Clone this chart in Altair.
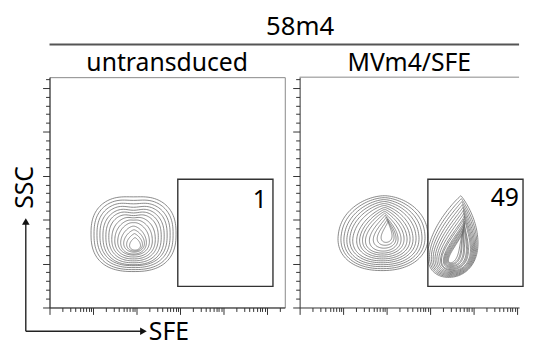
import numpy as np
import pandas as pd
import altair as alt

alt.data_transformers.disable_max_rows()

FONT = "Noto Sans"
AXIS_MAX = 262144
RIGHT_SFE_MAX = 113500  # right panel is cut off at the image edge

# ---------------- axis ticks ----------------
sfe_ticks = [k * 10 ** d for d in range(0, 6) for k in range(1, 10) if k * 10 ** d <= AXIS_MAX]
ssc_ticks = list(range(0, 260001, 10000))

# ---------------- panels / gates ----------------
panel_titles = ["untransduced", "MVm4/SFE"]
overall_title = "58m4"
gate_sfe = [900, 140000]
gate_ssc = [24000, 146000]
gate_pct = ["1", "49"]
label_sfe = [102000, 113000]
label_ssc = [136000, 138000]

# ---------------- contour rings ----------------
# extents of each contour ring: log10(SFE) left/right, SSC (thousands) top/bottom
# population A: untransduced, negative population
A_left = [0.956, 1.025, 1.093, 1.161, 1.230, 1.298, 1.366, 1.434, 1.503, 1.571, 1.639, 1.708, 1.776, 1.844]
A_right = [2.914, 2.846, 2.778, 2.709, 2.641, 2.573, 2.505, 2.436, 2.368, 2.300, 2.231, 2.186, 2.140, 2.095]
A_top = [127.2, 123.9, 120.6, 117.2, 113.9, 110.6, 107.3, 104.0, 100.7, 97.3, 92.9, 88.5, 84.1, 79.6]
A_bottom = [40.9, 43.1, 45.4, 47.6, 48.7, 50.9, 53.1, 55.3, 57.5, 59.7, 60.8, 63.0, 64.2, 65.3]
A_tip = [0, 0, 0, 0, 0, 0, 0, 0.05, 0.1, 0.15, 0.2, 0.25, 0.3, 0.35]
A_dent = [0.03, 0.05, 0.07, 0.09, 0.1, 0.1, 0.1, 0.08, 0.06, 0.04, 0.02, 0, 0, 0]
A_square = [2.5, 2.5, 2.45, 2.45, 2.4, 2.4, 2.35, 2.3, 2.25, 2.2, 2.1, 2.05, 2.0, 2.0]

# population B: MVm4/SFE, negative population
B_left = [0.888, 0.956, 1.025, 1.093, 1.161, 1.230, 1.321, 1.389, 1.457, 1.526, 1.617, 1.708, 1.799, 1.890]
B_right = [2.960, 2.892, 2.823, 2.755, 2.687, 2.618, 2.550, 2.482, 2.413, 2.345, 2.277, 2.231, 2.186, 2.140]
B_top = [127.2, 125.0, 122.8, 120.6, 118.3, 116.1, 113.9, 111.7, 109.5, 107.3, 105.1, 102.9, 100.7, 98.5]
B_bottom = [42.0, 44.2, 46.5, 48.7, 50.9, 53.1, 55.3, 57.5, 59.7, 61.9, 64.2, 67.5, 70.8, 74.1]
B_tip = [0.1, 0.12, 0.15, 0.18, 0.2, 0.25, 0.3, 0.35, 0.4, 0.5, 0.6, 0.7, 0.8, 0.9]
B_dent = [0] * 14
B_square = [2.2, 2.2, 2.2, 2.2, 2.15, 2.15, 2.1, 2.1, 2.05, 2.05, 2.0, 2.0, 2.0, 2.0]

# population C: MVm4/SFE, SFE-positive population
C_left = [3.005, 3.051, 3.097, 3.142, 3.188, 3.233, 3.279, 3.324, 3.347, 3.393, 3.415, 3.438, 3.461, 3.484, 3.506, 3.529]
C_right = [4.144, 4.121, 4.098, 4.075, 4.053, 4.030, 4.007, 3.984, 3.939, 3.916, 3.893, 3.848, 3.825, 3.780, 3.757, 3.711]
C_top = [127.2, 123.9, 120.6, 117.2, 113.9, 110.6, 107.3, 104.0, 100.7, 98.4, 96.2, 94.0, 91.8, 89.6, 87.4, 85.2]
C_bottom = [34.3, 35.4, 36.5, 37.6, 38.7, 39.8, 40.9, 42.0, 43.1, 44.2, 45.4, 46.5, 47.6, 48.7, 49.8, 50.9]
C_tip = [0.45, 0.5, 0.55, 0.6, 0.65, 0.7, 0.75, 0.8, 0.85, 0.9, 0.95, 1.0, 1.05, 1.1, 1.15, 1.2]
C_dent = [0] * 16
C_square = [2.1] * 16

LEAN = {"A": 0.0, "B": 0.05, "C": 0.28}


def rings(pop, left, right, top, bottom, tip, dent, square, npts=120):
    t = np.linspace(0, 2 * np.pi, npts)
    s, c = np.sin(t), np.cos(t)
    frames = []
    for i in range(len(left)):
        e = 2.0 / square[i]
        sx = np.sign(s) * np.abs(s) ** e
        cy = np.sign(c) * np.abs(c) ** e
        X = sx * ((1 - cy) / 2) ** tip[i]
        X = X / np.abs(X).max()
        Y = cy - dent[i] * np.exp(-(sx / 0.35) ** 2) * np.clip(cy, 0, None) ** 4
        xc = (left[i] + right[i]) / 2
        hw = (right[i] - left[i]) / 2
        xlog = xc + hw * X + LEAN[pop] * cy / 2
        y = bottom[i] + (top[i] - bottom[i]) * (Y + 1) / 2
        frames.append(pd.DataFrame({"ring": f"{pop}{i}", "k": np.arange(npts),
                                    "sfe": 10 ** xlog, "ssc": y * 1000}))
    return pd.concat(frames, ignore_index=True)


dfA = rings("A", A_left, A_right, A_top, A_bottom, A_tip, A_dent, A_square)
dfB = rings("B", B_left, B_right, B_top, B_bottom, B_tip, B_dent, B_square)
dfC = rings("C", C_left, C_right, C_top, C_bottom, C_tip, C_dent, C_square)
dfR = pd.concat([dfB, dfC], ignore_index=True)

WL, WR, H = 238, 222, 233
yscale = alt.Scale(domain=[0, AXIS_MAX], nice=False, zero=False)

x_major = "abs(log(datum.value)/LN10 - round(log(datum.value)/LN10)) < 0.001"
y_major = "datum.value % 50000 === 0"

common_axis = dict(labels=False, grid=False, domainColor="#333", tickColor="#333",
                   domainWidth=1, tickWidth=1)


def x_axis(with_title):
    kw = dict(values=sfe_ticks,
              tickSize={"condition": {"test": x_major, "value": 7}, "value": 4},
              **common_axis)
    if with_title:
        kw.update(title="SFE", titleFont=FONT, titleFontSize=25, titleFontWeight="normal",
                  titleColor="black", titleX=100, titleY=24, titleAlign="left",
                  titleBaseline="middle", titleAngle=0)
    else:
        kw.update(title="")
    return alt.Axis(**kw)


def y_axis(with_title):
    kw = dict(values=ssc_ticks,
              tickSize={"condition": {"test": y_major, "value": 7}, "value": 4},
              **common_axis)
    if with_title:
        kw.update(title="SSC", titleFont=FONT, titleFontSize=25, titleFontWeight="normal",
                  titleColor="black", titleX=-25, titleY=111, titleAlign="center",
                  titleBaseline="middle", titleAngle=270)
    else:
        kw.update(title="")
    return alt.Axis(**kw)


def panel(idx, contour_df, with_titles, xmax):
    xscale = alt.Scale(type="log", domain=[1, xmax], nice=False)
    X = alt.X("sfe:Q", scale=xscale, axis=x_axis(with_titles))
    Y = alt.Y("ssc:Q", scale=yscale, axis=y_axis(with_titles))
    contours = alt.Chart(contour_df).mark_line(color="#6c6c6c", strokeWidth=0.8).encode(
        x=X, y=Y, detail="ring:N", order="k:Q")
    gdf = pd.DataFrame({"sfe": [gate_sfe[0]], "sfe2": [gate_sfe[1]],
                        "ssc": [gate_ssc[0]], "ssc2": [gate_ssc[1]]})
    gate = alt.Chart(gdf).mark_rect(fill="white", fillOpacity=0, stroke="#333",
                                    strokeWidth=1.4).encode(
        x=X, x2="sfe2:Q", y=Y, y2="ssc2:Q")
    ldf = pd.DataFrame({"sfe": [label_sfe[idx]], "ssc": [label_ssc[idx]], "txt": [gate_pct[idx]]})
    label = alt.Chart(ldf).mark_text(font=FONT, fontSize=25, color="black", align="right",
                                     baseline="top").encode(x=X, y=Y, text="txt:N")
    return [contours, gate, label]


one = pd.DataFrame({"a": [0]})
AY = H + 24  # y of the horizontal arrow, below the plot

arrow_v = alt.Chart(one).mark_rule(color="#222", strokeWidth=1.4).encode(
    x=alt.value(-24), y=alt.value(148), y2=alt.value(AY))
arrow_h = alt.Chart(one).mark_rule(color="#222", strokeWidth=1.4).encode(
    x=alt.value(-24), x2=alt.value(93), y=alt.value(AY))
head_up = alt.Chart(one).mark_point(shape="triangle-up", filled=True, color="#111",
                                    opacity=1, size=60).encode(
    x=alt.value(-24), y=alt.value(146))
head_right = alt.Chart(one).mark_point(shape="triangle-right", filled=True, color="#111",
                                       opacity=1, size=60).encode(
    x=alt.value(95), y=alt.value(AY))

left = alt.layer(*panel(0, dfA, True, AXIS_MAX), arrow_v, arrow_h, head_up, head_right).properties(
    width=WL, height=H,
    title=alt.TitleParams(text=panel_titles[0], font=FONT, fontSize=25, fontWeight="normal",
                          color="black", anchor="middle", offset=1))

right_top_border = alt.Chart(one).mark_rule(color="#888", strokeWidth=1).encode(
    x=alt.value(0), x2=alt.value(WR), y=alt.value(0))
right = alt.layer(*panel(1, dfR, False, RIGHT_SFE_MAX), right_top_border).properties(
    width=WR, height=H, view=alt.ViewBackground(stroke="transparent"),
    title=alt.TitleParams(text=panel_titles[1], font=FONT, fontSize=25, fontWeight="normal",
                          color="black", anchor="middle", offset=1))

TOPW = WL + 15 + WR
top = alt.Chart(one).mark_rule(color="#555", strokeWidth=2).encode(
    x=alt.value(0), x2=alt.value(TOPW), y=alt.value(0)).properties(
    width=TOPW, height=1, view=alt.ViewBackground(stroke="transparent"),
    title=alt.TitleParams(text=overall_title, font=FONT, fontSize=26, fontWeight="normal",
                          color="black", anchor="middle", offset=4, dx=16))

panels_row = alt.hconcat(left, right, spacing=15, bounds="flush")
chart = alt.vconcat(top, panels_row, spacing=32, bounds="flush").properties(
    padding={"left": 4, "top": 3, "right": 0, "bottom": 0},
).configure_view(stroke="#888", strokeWidth=1)

chart.save("out.html", embed_options={"renderer": "svg", "actions": False})
